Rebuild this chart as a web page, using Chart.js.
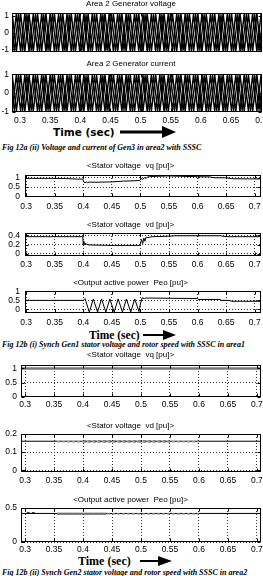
<!DOCTYPE html>
<html>
<head>
<meta charset="utf-8">
<script src="https://cdn.jsdelivr.net/npm/chart.js@4.4.1/dist/chart.umd.min.js"></script>
<style>
html, body { margin: 0; padding: 0; background: #fff; }
#page { position: relative; width: 263px; height: 576px; overflow: hidden; background: #fff; }
#page canvas { position: absolute; left: 0; }
.cap { position: absolute; left: 2px; font: italic bold 8px/8px "Liberation Serif", serif; white-space: nowrap; color: #000; }
.time { position: absolute; white-space: nowrap; font-weight: bold; color: #000; }
#arrows { position: absolute; left: 0; top: 0; }
</style>
</head>
<body>
<div id="page">
  <div class="time" style="left:53px;top:125px;font:bold 10.5px/14px 'DejaVu Sans',sans-serif;">Time (sec)</div>
  <div class="cap" style="top:144px;">Fig 12a (ii) Voltage and current of Gen3 in area2 with SSSC</div>
  <div class="time" style="left:89px;top:328px;font:bold 11.5px/14px 'Liberation Serif',serif;">Time (sec)</div>
  <div class="cap" style="top:341px;">Fig 12b (i) Synch Gen1 stator voltage and rotor speed with SSSC in area1</div>
  <div class="time" style="left:78px;top:554px;font:bold 12px/14px 'Liberation Serif',serif;">Time (sec)</div>
  <div class="cap" style="top:569px;">Fig 12b (ii) Synch Gen2 stator voltage and rotor speed with SSSC in area2</div>
  <svg id="arrows" width="263" height="576">
    <line x1="120" y1="132" x2="165" y2="132" stroke="#000" stroke-width="3"/>
    <polygon points="162,126 176,132 162,138" fill="#000"/>
    <line x1="143" y1="335" x2="165" y2="335" stroke="#000" stroke-width="2"/>
    <polygon points="163,330 176,335 163,340" fill="#000"/>
    <line x1="140" y1="561" x2="160" y2="561" stroke="#000" stroke-width="2"/>
    <polygon points="158,556 172,561 158,566" fill="#000"/>
  </svg>
</div>
<script>
// ---- Fig 12a (ii): Gen3 in area 2, peak times of the waveforms (s)
const tPeakA = [0.287,0.294,0.301,0.308,0.315,0.322,0.329,0.336,0.343,0.350,
  0.357,0.364,0.371,0.378,0.385,0.392,0.399,0.406,0.413,0.420,
  0.427,0.434,0.441,0.448,0.455,0.462,0.469,0.476,0.483,0.490,
  0.497,0.504,0.511,0.518,0.525,0.532,0.539,0.546,0.553,0.560,
  0.567,0.574,0.581,0.588,0.595,0.602,0.609,0.616,0.623,0.630,
  0.637,0.644,0.651,0.658,0.665,0.672,0.679,0.686,0.693,0.700,0.707];
const tPeakB = [0.2835,0.2905,0.2975,0.3045,0.3115,0.3185,0.3255,0.3325,0.3395,0.3465,
  0.3535,0.3605,0.3675,0.3745,0.3815,0.3885,0.3955,0.4025,0.4095,0.4165,
  0.4235,0.4305,0.4375,0.4445,0.4515,0.4585,0.4655,0.4725,0.4795,0.4865,
  0.4935,0.5005,0.5075,0.5145,0.5215,0.5285,0.5355,0.5425,0.5495,0.5565,
  0.5635,0.5705,0.5775,0.5845,0.5915,0.5985,0.6055,0.6125,0.6195,0.6265,
  0.6335,0.6405,0.6475,0.6545,0.6615,0.6685,0.6755,0.6825,0.6895,0.6965,0.7035,0.7105];

const voltA = [1.10,-1.08,1.11,-1.09,1.08,-1.11,1.10,-1.07,1.09,-1.10,
  1.11,-1.08,1.07,-1.10,1.10,-1.09,1.08,-1.11,1.09,-1.08,
  1.10,-1.10,1.11,-1.07,1.08,-1.09,1.10,-1.11,1.07,-1.08,
  1.09,-1.10,1.11,-1.09,1.08,-1.08,1.10,-1.11,1.09,-1.07,
  1.08,-1.10,1.11,-1.09,1.10,-1.08,1.07,-1.10,1.09,-1.11,
  1.10,-1.08,1.08,-1.09,1.11,-1.10,1.09,-1.07,1.10,-1.08,1.09];
const voltB = [-1.08,1.10,-1.09,1.11,-1.10,1.08,-1.07,1.09,-1.11,1.10,
  -1.09,1.07,-1.10,1.08,-1.11,1.09,-1.08,1.10,-1.10,1.11,
  -1.07,1.09,-1.08,1.10,-1.11,1.08,-1.09,1.07,-1.10,1.11,
  -1.08,1.09,-1.10,1.08,-1.09,1.11,-1.07,1.10,-1.08,1.09,
  -1.11,1.08,-1.09,1.10,-1.07,1.11,-1.10,1.08,-1.09,1.07,
  -1.08,1.10,-1.11,1.09,-1.08,1.07,-1.10,1.11,-1.09,1.08,-1.10];
const voltC = [1.05,-1.07,1.06,-1.04,1.07,-1.06,1.05,-1.07,1.04,-1.06,
  1.07,-1.05,1.06,-1.07,1.05,-1.04,1.06,-1.07,1.05,-1.06,
  1.04,-1.07,1.06,-1.05,1.07,-1.06,1.05,-1.04,1.06,-1.07,
  1.05,-1.06,1.07,-1.05,1.04,-1.06,1.07,-1.05,1.06,-1.04,
  1.05,-1.07,1.06,-1.05,1.07,-1.04,1.06,-1.06,1.05,-1.07,
  1.04,-1.05,1.07,-1.06,1.05,-1.07,1.06,-1.04,1.05,-1.06,1.07,-1.05];

const currA = [0.96,-0.95,0.97,-0.96,0.94,-0.97,0.95,-0.96,0.97,-0.94,
  0.96,-0.95,0.95,-0.97,0.96,-0.94,0.97,-0.96,0.95,-0.95,
  0.94,-0.97,0.96,-0.95,0.97,-0.96,0.95,-0.94,0.96,-0.97,
  0.95,-0.96,0.94,-0.95,0.97,-0.96,0.96,-0.97,0.95,-0.94,
  0.97,-0.95,0.96,-0.96,0.94,-0.97,0.95,-0.95,0.96,-0.94,
  0.97,-0.96,0.95,-0.97,0.96,-0.95,0.94,-0.96,0.97,-0.95,0.96];
const currB = [-0.95,0.97,-0.96,0.94,-0.97,0.95,-0.96,0.97,-0.94,0.96,
  -0.95,0.96,-0.97,0.95,-0.94,0.96,-0.96,0.97,-0.95,0.94,
  -0.97,0.95,-0.96,0.97,-0.95,0.94,-0.96,0.95,-0.97,0.96,
  -0.94,0.95,-0.97,0.96,-0.95,0.97,-0.96,0.94,-0.95,0.96,
  -0.97,0.95,-0.94,0.96,-0.96,0.95,-0.97,0.94,-0.95,0.97,
  -0.96,0.95,-0.94,0.96,-0.97,0.95,-0.96,0.94,-0.95,0.97,-0.96];
const currC = [0.92,-0.94,0.93,-0.91,0.94,-0.93,0.92,-0.94,0.91,-0.93,
  0.94,-0.92,0.93,-0.94,0.92,-0.91,0.93,-0.94,0.92,-0.93,
  0.91,-0.94,0.93,-0.92,0.94,-0.93,0.92,-0.91,0.93,-0.94,
  0.92,-0.93,0.94,-0.92,0.91,-0.93,0.94,-0.92,0.93,-0.91,
  0.92,-0.94,0.93,-0.92,0.94,-0.91,0.93,-0.93,0.92,-0.94,
  0.91,-0.92,0.94,-0.93,0.92,-0.94,0.93,-0.91,0.92,-0.93,0.94,-0.92];

// ---- Fig 12b (i): Gen1, area 1
const tVq1 = [0.298,0.30,0.35,0.37,0.39,0.399,0.401,0.403,0.405,0.407,
  0.41,0.42,0.45,0.47,0.49,0.499,0.501,0.504,0.507,0.51,
  0.513,0.516,0.52,0.53,0.55,0.57,0.6,0.62,0.63,0.65,0.66,0.7,0.711];
const vq1 = [0.97,0.97,0.97,0.96,0.93,0.93,0.78,0.72,0.79,0.74,
  0.77,0.76,0.78,0.82,0.84,0.86,0.96,0.92,1.0,0.97,
  1.05,1.06,1.07,1.08,1.1,1.08,1.06,1.05,1.0,1.0,0.95,0.94,0.94];

const tVd1 = [0.298,0.399,0.4,0.401,0.402,0.404,0.406,0.41,0.45,0.499,
  0.5,0.502,0.504,0.506,0.508,0.51,0.513,0.52,0.55,0.56,0.64,0.65,0.711];
const vd1 = [0.37,0.37,0.2,0.27,0.19,0.23,0.2,0.19,0.18,0.18,
  0.21,0.31,0.22,0.34,0.27,0.36,0.35,0.37,0.38,0.39,0.39,0.37,0.37];

const tPeo1 = [0.298,0.3,0.302,0.304,0.306,0.4,0.403,0.4105,0.4175,0.425,
  0.432,0.4395,0.4465,0.454,0.461,0.4685,0.4755,0.483,0.49,0.4975,
  0.5,0.503,0.507,0.51,0.6,0.601,0.64,0.641,0.655,0.66,0.711];
const peo1 = [0.5,0.52,0.48,0.53,0.5,0.5,0.6,-0.15,0.58,-0.15,
  0.58,-0.15,0.58,-0.15,0.58,-0.15,0.58,-0.15,0.58,-0.12,
  0.3,0.64,0.6,0.63,0.6,0.55,0.55,0.5,0.5,0.45,0.45];

// ---- Fig 12b (ii): Gen2, area 2
const tVq2 = [0.293,0.707];
const vq2 = [1.0,1.0];
const tVq2b = [0.405,0.445];
const vq2b = [1.0,1.0];

const tVd2 = [0.293,0.707];
const vd2 = [0.16,0.16];
const tVd2b = [0.355,0.6];
const vd2b = [0.157,0.157];
const tVd2c = [0.4,0.55];
const vd2c = [0.158,0.158];

const tPeo2 = [0.293,0.707];
const peo2 = [0.42,0.42];
const tPeo2b = [0.303,0.318];
const peo2b = [0.43,0.43];
const tPeo2c = [0.355,0.6];
const peo2c = [0.415,0.415];
const tPeo2d = [0.355,0.44];
const peo2d = [0.417,0.417];

const titles = ['Area 2 Generator voltage', 'Area 2 Generator current',
  '<Stator voltage  vq [pu]>', '<Stator voltage  vd [pu]>', '<Output active power  Peo [pu]>',
  '<Stator voltage  vq [pu]>', '<Stator voltage  vd [pu]>', '<Output active power  Peo [pu]>'];

const sans = '"Liberation Sans", Arial, sans-serif';
const pts = (ts, vs) => ts.map((t, i) => ({x: t, y: vs[i]}));
const solid = (t, v, width) => ({t, v, width});
const dashed = (t, v, color, width) => ({t, v, color, width, dash: [3, 2]});

// draws the closed MATLAB style box with inward ticks
const boxPlugin = {
  id: 'box',
  afterDatasetsDraw(chart) {
    const {ctx, chartArea: a, scales} = chart;
    const l = Math.round(a.left) + 0.5, r = Math.round(a.right) - 0.5;
    const t = Math.round(a.top) + 0.5, b = Math.round(a.bottom) - 0.5;
    ctx.save();
    ctx.strokeStyle = '#000';
    ctx.lineWidth = 1;
    ctx.setLineDash([]);
    ctx.strokeRect(l, t, r - l, b - t);
    ctx.beginPath();
    scales.x.ticks.forEach(k => {
      const px = Math.round(scales.x.getPixelForValue(k.value)) + 0.5;
      ctx.moveTo(px, t); ctx.lineTo(px, t + 3);
      ctx.moveTo(px, b); ctx.lineTo(px, b - 3);
    });
    scales.y.ticks.forEach(k => {
      const py = Math.round(scales.y.getPixelForValue(k.value)) + 0.5;
      ctx.moveTo(l, py); ctx.lineTo(l + 3, py);
      ctx.moveTo(r, py); ctx.lineTo(r - 3, py);
    });
    ctx.stroke();
    ctx.restore();
  }
};

function makePanel(i, p, series) {
  const page = document.getElementById('page');
  const cv = document.createElement('canvas');
  const top = p.titleY - 5;
  const bottom = p.labelsY ? p.labelsY + 6 : p.box[1] + 1;
  const h = bottom - top;
  const areaBottom = p.box[1] - top;
  cv.width = 263;
  cv.height = h;
  cv.style.top = top + 'px';
  page.appendChild(cv);

  new Chart(cv, {
    type: 'line',
    data: {
      datasets: series.map(s => ({
        data: pts(s.t, s.v),
        borderColor: s.color || '#000',
        borderWidth: s.width || 1,
        borderDash: s.dash || [],
        pointRadius: 0,
        tension: 0,
        fill: false
      }))
    },
    plugins: [boxPlugin],
    options: {
      responsive: false,
      animation: false,
      events: [],
      layout: { padding: { left: 0, right: 263 - p.right, top: 0, bottom: 0 } },
      plugins: {
        legend: { display: false },
        tooltip: { enabled: false },
        title: {
          display: true,
          text: titles[i],
          color: '#000',
          font: { family: sans, size: 8, weight: 'normal', lineHeight: 1 },
          padding: { top: 1, bottom: p.box[0] - p.titleY - 4 }
        }
      },
      scales: {
        x: {
          type: 'linear',
          min: p.xr[0], max: p.xr[1],
          afterFit: s => { s.height = h - areaBottom; s.paddingLeft = 0; s.paddingRight = 0; },
          border: { display: false, dash: [1, 2] },
          grid: { display: p.grid, color: '#333', lineWidth: 1, drawTicks: false },
          ticks: {
            display: !!p.labelsY,
            stepSize: 0.05, includeBounds: false, autoSkip: false, maxRotation: 0,
            padding: p.labelsY ? p.labelsY - p.box[1] - 4 : 0,
            color: '#000',
            font: { family: sans, size: 8.5, lineHeight: 1 },
            callback: v => String(Math.round(v * 100) / 100)
          }
        },
        y: {
          min: p.yr[0], max: p.yr[1],
          afterFit: s => { s.width = p.left; s.paddingTop = 0; s.paddingBottom = 0; },
          border: { display: false, dash: [1, 2] },
          grid: { display: p.grid, color: '#333', lineWidth: 1, drawTicks: false },
          ticks: {
            stepSize: p.yStep, includeBounds: false, autoSkip: false,
            padding: p.ypad,
            color: '#000',
            font: { family: sans, size: 8.5, lineHeight: 1 },
            callback: v => String(Math.round(v * 100) / 100)
          }
        }
      }
    }
  });
}

// panel placement on the page (pixels)
const frames = [
  {titleY: 4,   box: [13, 52],  left: 12, right: 262, labelsY: 0,   xr: [0.2867, 0.7015], yr: [-1.15, 1.15], yStep: 1,   grid: false, ypad: 3},
  {titleY: 64,  box: [74, 112], left: 12, right: 262, labelsY: 120, xr: [0.2867, 0.7015], yr: [-1.02, 1.02], yStep: 1,   grid: false, ypad: 3},
  {titleY: 166, box: [175, 197], left: 25, right: 261, labelsY: 206, xr: [0.298, 0.711], yr: [-0.03, 1.15], yStep: 0.5, grid: true, ypad: 5},
  {titleY: 225, box: [233, 256], left: 25, right: 261, labelsY: 264, xr: [0.298, 0.711], yr: [-0.05, 0.45], yStep: 0.2, grid: true, ypad: 5},
  {titleY: 283, box: [291, 313], left: 25, right: 261, labelsY: 322, xr: [0.298, 0.711], yr: [-0.2, 1.02], yStep: 0.5, grid: true, ypad: 5},
  {titleY: 355, box: [365, 397], left: 21, right: 261, labelsY: 404, xr: [0.293, 0.707], yr: [-0.01, 1.12], yStep: 0.5, grid: true, ypad: 4},
  {titleY: 426, box: [434, 472], left: 21, right: 261, labelsY: 480, xr: [0.293, 0.707], yr: [-0.01, 0.2],  yStep: 0.1, grid: true, ypad: 4},
  {titleY: 500, box: [508, 542], left: 21, right: 261, labelsY: 549, xr: [0.293, 0.707], yr: [0, 0.5],      yStep: 0.5, grid: true, ypad: 4}
];

const panelSeries = [
  [solid(tPeakA, voltA, 1.5), solid(tPeakA, voltB, 1.5), solid(tPeakB, voltC, 1.3)],
  [solid(tPeakA, currA, 1.5), solid(tPeakA, currB, 1.5), solid(tPeakB, currC, 1.3)],
  [solid(tVq1, vq1)],
  [solid(tVd1, vd1)],
  [solid(tPeo1, peo1)],
  [{t: tVq2, v: vq2, color: '#777', width: 2.5}, dashed(tVq2b, vq2b, '#000', 1)],
  [dashed(tVd2b, vd2b, '#999', 1.5), dashed(tVd2c, vd2c, '#555', 2), solid(tVd2, vd2)],
  [dashed(tPeo2c, peo2c, '#777', 1.5), {t: tPeo2d, v: peo2d, color: '#666', width: 2}, solid(tPeo2, peo2), dashed(tPeo2b, peo2b, '#000', 1)]
];

frames.forEach((p, i) => makePanel(i, p, panelSeries[i]));
</script>
</body>
</html>
